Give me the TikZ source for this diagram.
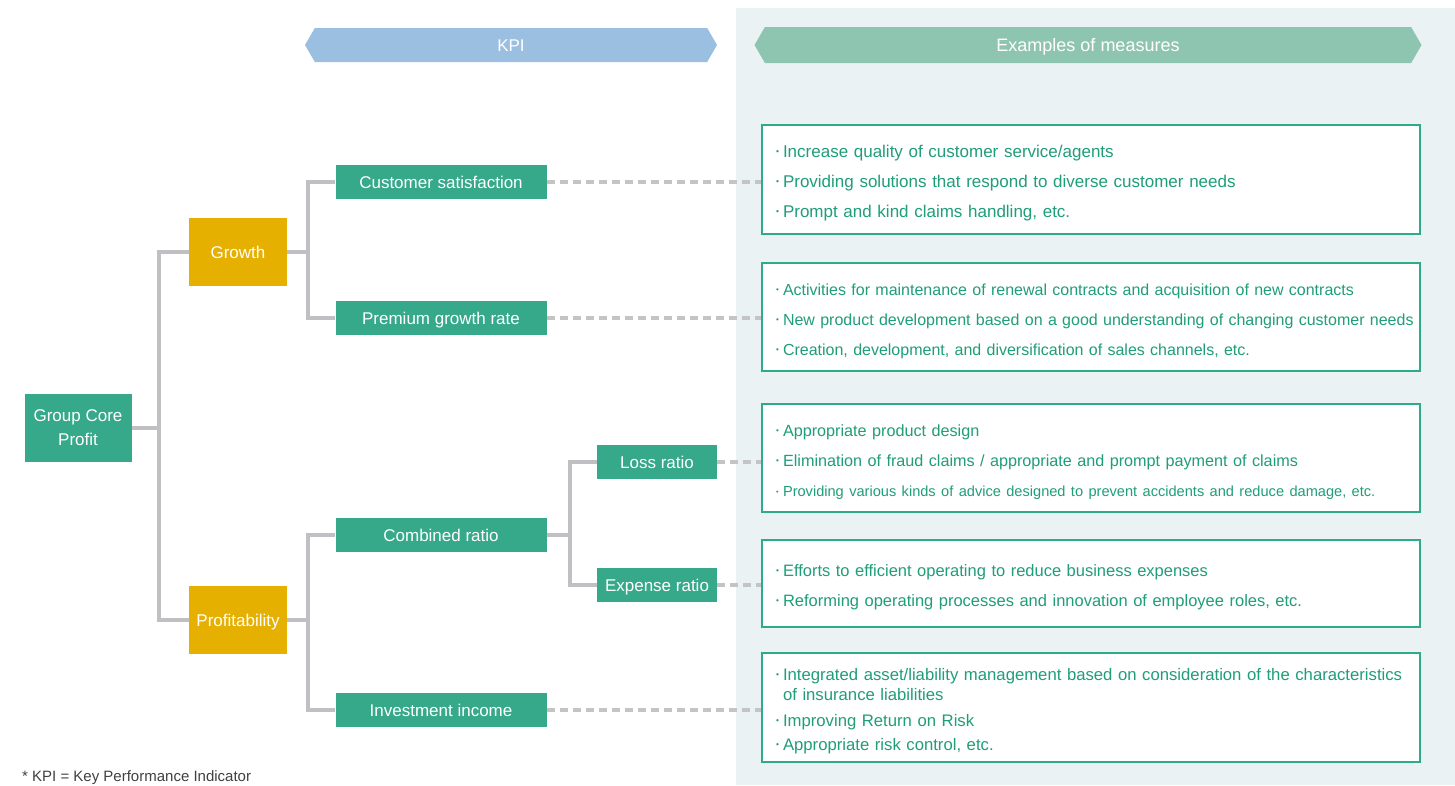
\documentclass[tikz,border=0pt]{standalone}
\usepackage{fontspec}
\setmainfont{Liberation Sans}
\usetikzlibrary{positioning, shapes.symbols, calc}
\definecolor{kpiGreen}{HTML}{36A98A}
\definecolor{kpiGold}{HTML}{E6B000}
\definecolor{treeGray}{HTML}{BFBFC4}
\definecolor{dashGray}{HTML}{C4C4C4}
\definecolor{bannerBlue}{HTML}{9BBFE0}
\definecolor{bannerGreen}{HTML}{8EC5B0}
\definecolor{panelBg}{HTML}{EAF2F3}
\definecolor{measLine}{HTML}{2DAB8A}
\definecolor{measText}{HTML}{1F9E79}
\newcommand{\measitem}[1]{\mbox{\makebox[7pt][l]{\raisebox{0.17em}{\scalebox{0.5}{\textbullet}}}#1}}

\begin{document}
\begin{tikzpicture}[x=1pt, y=-1pt,
    kpi/.style={fill=kpiGreen, text=white, minimum width=211pt, minimum height=34pt,
                inner sep=2pt, font=\fontsize{17}{20}\selectfont, text height=12pt, text depth=0pt},
    subkpi/.style={kpi, minimum width=120pt},
    pillar/.style={kpi, fill=kpiGold, minimum width=98pt, minimum height=68pt},
    rootbox/.style={fill=kpiGreen, text=white, minimum width=107pt, minimum height=68pt,
                    inner sep=2pt, align=center, font=\fontsize{17}{24}\selectfont},
    trunk/.style={draw=treeGray, line width=4pt},
    dashlink/.style={draw=dashGray, line width=4pt, dash pattern=on 8pt off 5pt},
    meas/.style={draw=measLine, line width=1.5pt, fill=white, text=measText, align=left,
                 text width=630pt, inner xsep=14pt, minimum height=109pt,
                 execute at begin node={\rule{0pt}{20pt}}},
    banner/.style={signal, signal to=west and east, signal pointer angle=120,
                   minimum height=34pt, inner sep=0pt, text=white, text height=13pt, text depth=0pt},
]
\useasboundingbox (0,0) rectangle (1455,785);
\fill[panelBg] (736,8) rectangle (1455,785);

\node[banner, fill=bannerBlue, minimum width=412pt, font=\fontsize{17}{20}\selectfont] (kpihead) at (511,45) {KPI};
\node[banner, fill=bannerGreen, minimum width=667pt, minimum height=36pt,
      font=\fontsize{18}{20}\selectfont] (meashead) at (1088,45) {Examples of measures};

\node[rootbox] (core) at (78,428) {Group Core\\Profit};
\node[pillar] (growth) at (238,252) {Growth};
\node[pillar] (profit) at (238,620) {Profitability};
\node[kpi] (custsat) at (441,182) {Customer satisfaction};
\node[kpi] (premium) at (441,318) {Premium growth rate};
\node[kpi] (combined) at (441,535) {Combined ratio};
\node[kpi] (invest) at (441,710) {Investment income};
\node[subkpi] (loss) at (657,462) {Loss ratio};
\node[subkpi] (expense) at (657,585) {Expense ratio};

\coordinate (j1) at (159,428);
\coordinate (j2) at (308,252);
\coordinate (j3) at (308,620);
\coordinate (j4) at (570,535);
\draw[trunk] (core) -- (j1) |- (growth);
\draw[trunk] (j1) |- (profit);
\draw[trunk] (growth) -- (j2) |- (custsat);
\draw[trunk] (j2) |- (premium);
\draw[trunk] (profit) -- (j3) |- (combined);
\draw[trunk] (j3) |- (invest);
\draw[trunk] (combined) -- (j4) |- (loss);
\draw[trunk] (j4) |- (expense);

\node[meas, font=\fontsize{17}{30}\selectfont] (m1) at (1091,179.5) {%
  \measitem{Increase quality of customer service/agents}\\
  \measitem{Providing solutions that respond to diverse customer needs}\\
  \measitem{Prompt and kind claims handling, etc.}};
\node[meas, minimum height=108pt, font=\fontsize{16}{30}\selectfont] (m2) at (1091,317) {%
  \measitem{Activities for maintenance of renewal contracts and acquisition of new contracts}\\
  \measitem{New product development based on a good understanding of changing customer needs}\\
  \measitem{Creation, development, and diversification of sales channels, etc.}};
\node[meas, minimum height=108pt, font=\fontsize{16.2}{30}\selectfont] (m3) at (1091,458) {%
  \measitem{Appropriate product design}\\
  \measitem{Elimination of fraud claims / appropriate and prompt payment of claims}\\
  {\fontsize{14.6}{30}\selectfont\measitem{Providing various kinds of advice designed to prevent accidents and reduce damage, etc.}}};
\node[meas, minimum height=87pt, font=\fontsize{16.5}{30}\selectfont] (m4) at (1091,583.5) {%
  \measitem{Efforts to efficient operating to reduce business expenses}\\
  \measitem{Reforming operating processes and innovation of employee roles, etc.}};
\node[meas, font=\fontsize{16.7}{24}\selectfont] (m5) at (1091,707.5) {%
  \measitem{Integrated asset/liability management based on consideration of the characteristics}\\[-4pt]
  \mbox{\hspace{7pt}of insurance liabilities}\\[2pt]
  \measitem{Improving Return on Risk}\\
  \measitem{Appropriate risk control, etc.}};

\draw[dashlink] (custsat) -- (custsat -| m1.west);
\draw[dashlink] (premium) -- (premium -| m2.west);
\draw[dashlink] (loss) -- (loss -| m3.west);
\draw[dashlink] (expense) -- (expense -| m4.west);
\draw[dashlink] (invest) -- (invest -| m5.west);

\node[anchor=base west, inner sep=0pt, text=black!75, font=\fontsize{15}{18}\selectfont] (note)
  at (22,781) {* KPI = Key Performance Indicator};
\end{tikzpicture}
\end{document}
